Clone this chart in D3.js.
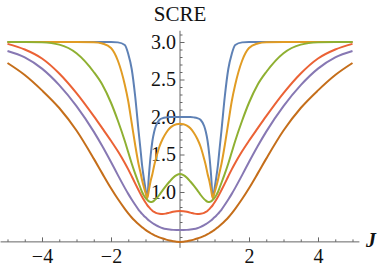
<!DOCTYPE html>
<html>
<head>
<meta charset="utf-8">
<script src="https://cdn.jsdelivr.net/npm/d3@7"></script>
<style>
  body { margin: 0; background: #fff; }
  svg { display: block; }
</style>
</head>
<body>
<div id="chart"></div>
<script>
// J values (shared by all series)
const jValues = [-5, -4.5, -4, -3.5, -3, -2.5, -2.25, -2, -1.8, -1.6, -1.5, -1.4, -1.3, -1.2, -1.15, -1.1, -1.05, -1, -0.95, -0.9, -0.85, -0.8, -0.75, -0.7, -0.6, -0.5, -0.4, -0.3, -0.2, -0.1,
  0,
  0.1, 0.2, 0.3, 0.4, 0.5, 0.6, 0.7, 0.75, 0.8, 0.85, 0.9, 0.95, 1, 1.05, 1.1, 1.15, 1.2, 1.3, 1.4, 1.5, 1.6, 1.8, 2, 2.25, 2.5, 3, 3.5, 4, 4.5, 5];

// SCRE values
const blue = [3.0, 3.0, 3.0, 3.0, 3.0, 3.0, 3.0, 3.0, 2.995, 2.96, 2.84, 2.64, 2.28, 1.81, 1.59, 1.36, 1.19, 1.04, 0.92, 1.23, 1.49, 1.68, 1.8, 1.88, 1.96, 1.985, 1.995, 2.0, 2.0, 2.0,
  2.0,
  2.0, 2.0, 2.0, 1.995, 1.985, 1.96, 1.88, 1.8, 1.68, 1.49, 1.23, 0.92, 1.04, 1.19, 1.36, 1.59, 1.81, 2.28, 2.64, 2.84, 2.96, 2.995, 3.0, 3.0, 3.0, 3.0, 3.0, 3.0, 3.0, 3.0];
const orange = [3.0, 3.0, 3.0, 3.0, 3.0, 2.998, 2.98, 2.92, 2.75, 2.43, 2.21, 1.92, 1.63, 1.37, 1.27, 1.16, 1.07, 0.99, 0.92, 1.03, 1.15, 1.24, 1.35, 1.44, 1.6, 1.71, 1.79, 1.85, 1.885, 1.903,
  1.91,
  1.903, 1.885, 1.85, 1.79, 1.71, 1.6, 1.44, 1.35, 1.24, 1.15, 1.03, 0.92, 0.99, 1.07, 1.16, 1.27, 1.37, 1.63, 1.92, 2.21, 2.43, 2.75, 2.92, 2.98, 2.998, 3.0, 3.0, 3.0, 3.0, 3.0];
const green = [3.0, 3.0, 2.995, 2.965, 2.85, 2.6, 2.43, 2.19, 1.95, 1.68, 1.53, 1.38, 1.245, 1.12, 1.06, 1.0, 0.955, 0.92, 0.895, 0.875, 0.867, 0.87, 0.885, 0.905, 0.96, 1.025, 1.085, 1.14, 1.19, 1.225,
  1.24,
  1.225, 1.19, 1.14, 1.085, 1.025, 0.96, 0.905, 0.885, 0.87, 0.867, 0.875, 0.895, 0.92, 0.955, 1.0, 1.06, 1.12, 1.245, 1.38, 1.53, 1.68, 1.95, 2.19, 2.43, 2.6, 2.85, 2.965, 2.995, 3.0, 3.0];
const red = [2.975, 2.9, 2.78, 2.58, 2.318, 2.011, 1.848, 1.683, 1.543, 1.387, 1.302, 1.21, 1.115, 1.023, 0.978, 0.936, 0.896, 0.859, 0.826, 0.797, 0.772, 0.751, 0.734, 0.721, 0.709, 0.706, 0.713, 0.725, 0.736, 0.743,
  0.746,
  0.743, 0.736, 0.725, 0.713, 0.706, 0.709, 0.721, 0.734, 0.751, 0.772, 0.797, 0.826, 0.859, 0.896, 0.936, 0.978, 1.023, 1.115, 1.21, 1.302, 1.387, 1.543, 1.683, 1.848, 2.011, 2.318, 2.58, 2.78, 2.9, 2.975];
const purple = [2.88, 2.795, 2.645, 2.425, 2.145, 1.805, 1.61, 1.4, 1.225, 1.055, 0.975, 0.9, 0.83, 0.763, 0.735, 0.708, 0.684, 0.662, 0.641, 0.621, 0.603, 0.586, 0.571, 0.557, 0.534, 0.517, 0.506, 0.499, 0.495, 0.493,
  0.492,
  0.493, 0.495, 0.499, 0.506, 0.517, 0.534, 0.557, 0.571, 0.586, 0.603, 0.621, 0.641, 0.662, 0.684, 0.708, 0.735, 0.763, 0.83, 0.9, 0.975, 1.055, 1.225, 1.4, 1.61, 1.805, 2.145, 2.425, 2.645, 2.795, 2.88];
const brown = [2.72, 2.56, 2.355, 2.12, 1.82, 1.445, 1.245, 1.05, 0.906, 0.776, 0.716, 0.66, 0.613, 0.57, 0.55, 0.531, 0.513, 0.495, 0.479, 0.464, 0.45, 0.437, 0.425, 0.414, 0.395, 0.379, 0.365, 0.353, 0.344, 0.337,
  0.335,
  0.337, 0.344, 0.353, 0.365, 0.379, 0.395, 0.414, 0.425, 0.437, 0.45, 0.464, 0.479, 0.495, 0.513, 0.531, 0.55, 0.57, 0.613, 0.66, 0.716, 0.776, 0.906, 1.05, 1.245, 1.445, 1.82, 2.12, 2.355, 2.56, 2.72];

const seriesList = [blue, orange, green, red, purple, brown];
const colors = ['#5e81b5', '#e19c24', '#8fb032', '#eb6235', '#8778b3', '#c56e1a'];

// tick labels
const xTicks = [-4, -2, 2, 4];
const yTicks = [1.0, 1.5, 2.0, 2.5, 3.0];

const width = 382, height = 271;
const font = "'Liberation Serif', 'DejaVu Serif', serif";

const svg = d3.select('#chart').append('svg')
  .attr('width', width)
  .attr('height', height)
  .attr('font-family', font);

const x = d3.scaleLinear().domain([-5, 5]).range([7.5, 352.5]);
const y = d3.scaleLinear().domain([1, 3]).range([192, 42]);

// axes cross at the lowest value of the plot
const yOrigin = d3.min(seriesList, s => d3.min(s));
const axisY = y(yOrigin);
const axisColor = '#666';

// minor ticks
const xMinor = d3.range(-10, 11).map(i => i / 2).filter(v => v % 2 !== 0);
const yMinor = d3.range(4, 32).map(i => i / 10).filter(v => Math.round(v * 10) % 5 !== 0);

// X AXIS
const gx = svg.append('g').attr('transform', `translate(0,${axisY})`);
gx.append('line')
  .attr('x1', x(-5.2)).attr('x2', x(5.2))
  .attr('stroke', axisColor).attr('stroke-width', 1);
const gxMinor = gx.append('g')
  .call(d3.axisBottom(x).tickValues(xMinor).tickFormat('').tickSize(-2.5));
const gxMajor = gx.append('g')
  .call(d3.axisBottom(x).tickValues(xTicks).tickFormat(d3.format('d')).tickSize(-4.5).tickPadding(7));
[gxMinor, gxMajor].forEach(g => {
  g.attr('font-family', font).attr('font-size', 20);
  g.select('.domain').remove();
  g.selectAll('.tick line').attr('stroke', axisColor);
});
gxMajor.selectAll('text').attr('fill', '#111');

// Y AXIS
const gy = svg.append('g').attr('transform', `translate(${x(0)},0)`);
gy.append('line')
  .attr('y1', y(3.15)).attr('y2', axisY + 6)
  .attr('stroke', axisColor).attr('stroke-width', 1);
const gyMinor = gy.append('g')
  .call(d3.axisLeft(y).tickValues(yMinor).tickFormat('').tickSize(-2.5));
const gyMajor = gy.append('g')
  .call(d3.axisLeft(y).tickValues(yTicks).tickFormat(d3.format('.1f')).tickSize(-4.5).tickPadding(4));
[gyMinor, gyMajor].forEach(g => {
  g.attr('font-family', font).attr('font-size', 20);
  g.select('.domain').remove();
  g.selectAll('.tick line').attr('stroke', axisColor);
});
gyMajor.selectAll('text').attr('fill', '#111');

// CURVES
const line = d3.line()
  .x((d, i) => x(jValues[i]))
  .y(d => y(d))
  .curve(d3.curveMonotoneX);

svg.append('g')
  .selectAll('path')
  .data(seriesList)
  .join('path')
  .attr('d', line)
  .attr('fill', 'none')
  .attr('stroke', (d, i) => colors[i])
  .attr('stroke-width', 2)
  .attr('stroke-linejoin', 'round');

// AXIS LABELS
svg.append('text')
  .attr('x', x(0))
  .attr('y', 21)
  .attr('text-anchor', 'middle')
  .attr('font-size', 21)
  .attr('fill', '#111')
  .text('SCRE');

svg.append('text')
  .attr('x', 366)
  .attr('y', 247)
  .attr('font-size', 20)
  .attr('font-weight', 'bold')
  .attr('font-style', 'italic')
  .attr('fill', '#111')
  .text('J');
</script>
</body>
</html>
